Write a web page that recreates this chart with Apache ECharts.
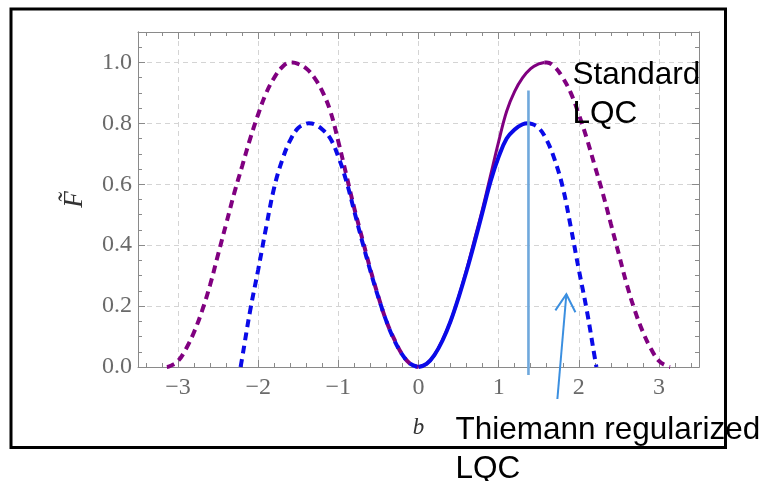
<!DOCTYPE html>
<html><head><meta charset="utf-8">
<script src="https://cdn.jsdelivr.net/npm/echarts@6/dist/echarts.min.js"></script>
<style>html,body{margin:0;padding:0;background:#fff;}#c{width:766px;height:481px;}</style>
</head><body><div id="c"></div>
<script>
// ---- data ----
const xTickLabels = [-3, -2, -1, 0, 1, 2, 3];
const yTickLabels = [0, 0.2, 0.4, 0.6, 0.8, 1.0];

// Standard LQC (purple)
const standardB = [-3.14,-3.1,-3.0,-2.9,-2.8,-2.7,-2.6,-2.5,-2.4,-2.3,-2.2,-2.1,-2.0,-1.9,-1.8,-1.7,-1.6,-1.57,-1.5,-1.4,-1.3,-1.2,-1.1,-1.0,-0.9,-0.8,-0.7,-0.6,-0.5,-0.4,-0.3,-0.2,-0.1,0,
  0.1,0.2,0.3,0.4,0.5,0.6,0.7,0.8,0.9,1.0,1.1,1.2,1.3,1.4,1.5,1.57,1.6,1.7,1.8,1.9,2.0,2.1,2.2,2.3,2.4,2.5,2.6,2.7,2.8,2.9,3.0,3.1,3.14];
const standardF = [0,0.003,0.02,0.06,0.115,0.185,0.27,0.37,0.47,0.57,0.66,0.75,0.83,0.90,0.95,0.985,1.0,1.0,0.995,0.98,0.95,0.905,0.84,0.74,0.63,0.52,0.42,0.32,0.23,0.15,0.09,0.04,0.01,0,
  0.01,0.04,0.09,0.15,0.23,0.32,0.42,0.52,0.63,0.74,0.84,0.905,0.95,0.98,0.995,1.0,1.0,0.985,0.95,0.90,0.83,0.75,0.66,0.57,0.47,0.37,0.27,0.185,0.115,0.06,0.02,0.003,0];
const standardSolid = [0, 1.57];

// Thiemann regularized LQC (blue)
const thiemannB = [-2.22,-2.2,-2.1,-2.0,-1.9,-1.8,-1.7,-1.6,-1.5,-1.4,-1.37,-1.3,-1.2,-1.1,-1.0,-0.9,-0.8,-0.7,-0.6,-0.5,-0.4,-0.3,-0.2,-0.1,0,
  0.1,0.2,0.3,0.4,0.5,0.6,0.7,0.8,0.9,1.0,1.1,1.2,1.3,1.37,1.4,1.5,1.6,1.7,1.8,1.9,2.0,2.1,2.2,2.22];
const thiemannF = [0,0.03,0.186,0.32,0.46,0.59,0.68,0.745,0.785,0.799,0.80,0.797,0.78,0.75,0.69,0.61,0.51,0.41,0.315,0.228,0.15,0.087,0.04,0.01,0,
  0.01,0.04,0.087,0.15,0.228,0.315,0.41,0.51,0.61,0.69,0.75,0.78,0.797,0.80,0.799,0.785,0.745,0.68,0.59,0.46,0.32,0.186,0.03,0];
const thiemannSolid = [0, 1.37];

// annotation anchors (data coordinates)
const markerLine = {b: 1.372, top: 0.908, bottom: -0.026};
const arrowTail = [1.733, -0.105], arrowTip = [1.845, 0.239];
const arrowWingL = [1.708, 0.186], arrowWingR = [1.958, 0.18];

// ---- build ----
function pieces(bs, fs, range) {
  const left = [], solid = [], right = [];
  for (let i = 0; i < bs.length; i++) {
    const p = [bs[i], fs[i]];
    if (bs[i] <= range[0]) left.push(p);
    if (bs[i] >= range[0] && bs[i] <= range[1]) solid.push(p);
    if (bs[i] >= range[1]) right.push(p);
  }
  return {left, solid, right};
}
const PURPLE = '#800080', BLUE = '#0a0ae8';
const FRAME = '#8a8a8a', LABEL = '#6a6a6a', GRIDC = '#d4d4d4';
const pp = pieces(standardB, standardF, standardSolid);
const bp = pieces(thiemannB, thiemannF, thiemannSolid);
function line(data, color, width, dashed) {
  return {type: 'line', data, showSymbol: false, smooth: 0.4, clip: true, silent: true,
    xAxisIndex: 0, yAxisIndex: 0,
    lineStyle: {color, width, type: dashed ? [8, 5.5] : 'solid', cap: 'butt'}, z: 3};
}
const isInt = v => Math.abs(v - Math.round(v)) < 1e-6;
const fmtX = v => !isInt(v) ? '' : (v < 0 ? '\u2212' + Math.abs(Math.round(v)) : String(Math.round(v)));
const fmtY = v => (Math.abs(v * 5 - Math.round(v * 5)) > 1e-6 || v > 1.01) ? '' : v.toFixed(1);
const labelFont = {fontFamily: 'Liberation Serif', fontSize: 24, color: LABEL};
const axLine = {show: true, onZero: false, lineStyle: {color: FRAME, width: 1}};
const split = {show: true, lineStyle: {color: GRIDC, type: [5, 4], width: 1}};

function xAx(pos, main) {
  return {type: 'value', min: -3.5, max: 3.5, splitNumber: 7, position: pos,
    axisLine: axLine,
    axisTick: {show: true, inside: true, length: 7, lineStyle: {color: FRAME, width: 1}},
    minorTick: {show: true, splitNumber: 5, length: 4, lineStyle: {color: FRAME, width: 1}},
    axisLabel: main ? Object.assign({show: true, margin: 9, customValues: xTickLabels, formatter: fmtX}, labelFont) : {show: false},
    splitLine: main ? split : {show: false},
    name: main ? 'b' : '', nameLocation: 'middle', nameGap: 49,
    nameTextStyle: {fontFamily: 'Liberation Serif', fontStyle: 'italic', fontSize: 23, color: '#333'}};
}
function yAx(pos, main) {
  return {type: 'value', min: 0, max: 1.1, interval: 0.2, position: pos,
    axisLine: axLine,
    axisTick: {show: true, inside: true, length: 7, lineStyle: {color: FRAME, width: 1}},
    axisLabel: main ? Object.assign({show: true, margin: 6, customValues: yTickLabels, formatter: fmtY}, labelFont) : {show: false},
    splitLine: main ? split : {show: false},
    name: main ? 'F\u0303' : '', nameLocation: 'middle', nameGap: 50,
    nameTextStyle: {fontFamily: 'Liberation Serif', fontStyle: 'italic', fontSize: 27, color: '#333'}};
}
function yMinor(pos) {
  return {type: 'value', min: 0, max: 1.1, interval: 0.05, position: pos,
    axisLine: axLine,
    axisTick: {show: true, inside: true, length: 4, lineStyle: {color: FRAME, width: 1}},
    axisLabel: {show: false}, splitLine: {show: false}};
}

const chart = echarts.init(document.getElementById('c'), null, {renderer: 'canvas'});
chart.setOption({
  backgroundColor: '#fff',
  animation: false,
  grid: {left: 138, top: 32, right: 67, bottom: 114, containLabel: false},
  xAxis: [xAx('bottom', true), xAx('top', false)],
  yAxis: [yAx('left', true), yAx('right', false), yMinor('left'), yMinor('right')],
  series: [
    line(pp.left, PURPLE, 4, true),
    line(pp.solid, PURPLE, 3, false),
    line(pp.right, PURPLE, 4, true),
    line(bp.left, BLUE, 4, true),
    line(bp.solid, BLUE, 4, false),
    line(bp.right, BLUE, 4, true)
  ]
});

const px = p => chart.convertToPixel({xAxisIndex: 0, yAxisIndex: 0}, p);
const mt = px([markerLine.b, markerLine.top]), mb = px([markerLine.b, markerLine.bottom]);
const at = px(arrowTail), ah = px(arrowTip), wl = px(arrowWingL), wr = px(arrowWingR);
const ARROW = '#3b8fe0';
const annFont = {fontFamily: 'Liberation Sans', fontSize: 31.5, lineHeight: 39, fill: '#000', align: 'left', verticalAlign: 'top'};
chart.setOption({
  graphic: [
    {type: 'rect', shape: {x: 11, y: 9, width: 714.5, height: 438.5}, style: {fill: 'none', stroke: '#000', lineWidth: 3}, z: 1},
    {type: 'line', shape: {x1: mt[0], y1: mt[1], x2: mb[0], y2: mb[1]}, style: {stroke: '#6fa8dc', lineWidth: 2.6}, z: 10},
    {type: 'line', shape: {x1: at[0], y1: at[1], x2: ah[0], y2: ah[1]}, style: {stroke: ARROW, lineWidth: 2}, z: 10},
    {type: 'polyline', shape: {points: [wl, ah, wr]}, style: {stroke: ARROW, lineWidth: 2, fill: 'none'}, z: 10},
    {type: 'text', x: 572.5, y: 56, z: 11, style: Object.assign({text: 'Standard\nLQC'}, annFont)},
    {type: 'text', x: 455.5, y: 411, z: 11, style: Object.assign({text: 'Thiemann regularized\nLQC'}, annFont)}
  ]
});
</script></body></html>
